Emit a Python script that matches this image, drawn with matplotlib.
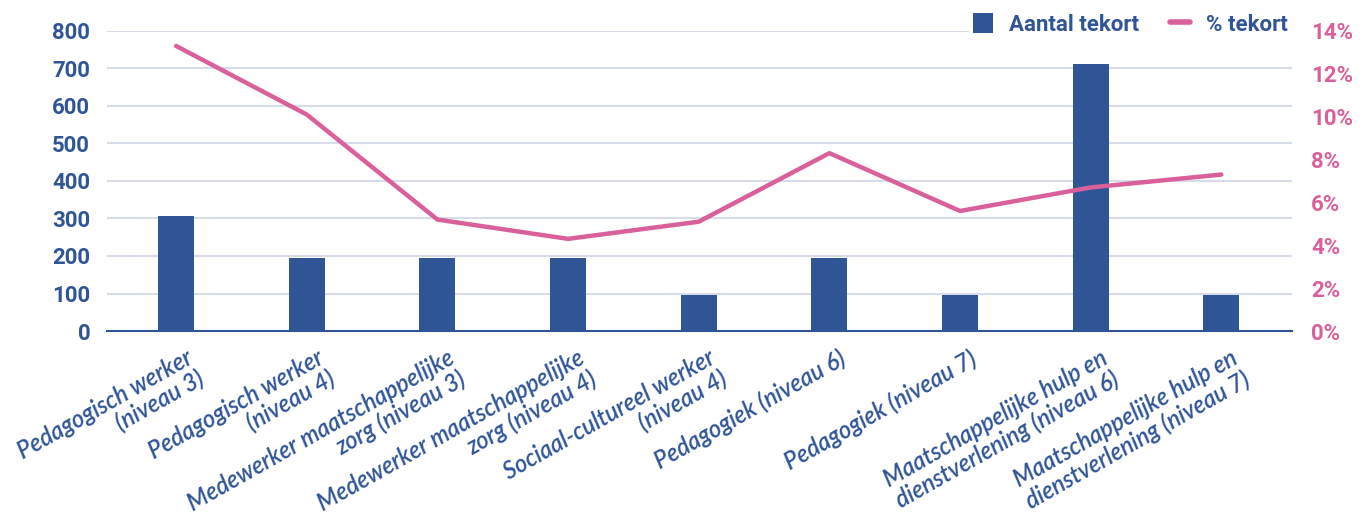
import matplotlib
matplotlib.use('Agg')
import matplotlib.pyplot as plt
from matplotlib.patches import Patch
from matplotlib.lines import Line2D
from matplotlib.ticker import FuncFormatter
from matplotlib.transforms import ScaledTranslation

blue = '#2f5597'
pink = '#d9609b'
grid = '#d6dce8'

categories = [
    'Pedagogisch werker\n(niveau 3)',
    'Pedagogisch werker\n(niveau 4)',
    'Medewerker maatschappelijke\nzorg (niveau 3)',
    'Medewerker maatschappelijke\nzorg (niveau 4)',
    'Sociaal-cultureel werker\n(niveau 4)',
    'Pedagogiek (niveau 6)',
    'Pedagogiek (niveau 7)',
    'Maatschappelijke hulp en\ndienstverlening (niveau 6)',
    'Maatschappelijke hulp en\ndienstverlening (niveau 7)',
]
aantal_tekort = [307, 195, 195, 195, 95, 195, 95, 712, 95]
pct_tekort = [13.3, 10.1, 5.2, 4.3, 5.1, 8.3, 5.6, 6.7, 7.3]

fig = plt.figure(figsize=(13.7, 5.12), dpi=100)
ax = fig.add_axes([0.078, 0.3535, 0.865, 0.586])
ax2 = ax.twinx()

x = range(len(categories))
ax.bar(x, aantal_tekort, width=0.276, color=blue, zorder=2)
ax2.plot(x, pct_tekort, color=pink, lw=3.2, solid_capstyle='round',
         solid_joinstyle='round', zorder=3)

ax.set_xlim(-0.53, 8.54)
ax.set_ylim(0, 800)
ax.set_yticks(range(0, 801, 100))
ax2.set_ylim(0, 14)
ax2.set_yticks(range(0, 15, 2))
ax2.yaxis.set_major_formatter(FuncFormatter(lambda v, _: f'{v:.0f}%'))

ax.grid(axis='y', color=grid, lw=1.5, zorder=0)
ax.set_axisbelow(True)

for a in (ax, ax2):
    for s in a.spines.values():
        s.set_visible(False)
ax.spines['bottom'].set_visible(True)
ax.spines['bottom'].set_color(blue)
ax.spines['bottom'].set_linewidth(1.5)
ax.spines['bottom'].set_zorder(4)

ax.tick_params(axis='y', length=0, pad=12, labelcolor=blue)
ax2.tick_params(axis='y', length=0, pad=14, labelcolor=pink)
for lbl in ax.get_yticklabels() + ax2.get_yticklabels():
    lbl.set_fontfamily('Roboto')
    lbl.set_fontweight('bold')
    lbl.set_fontsize(16)

# rotated category labels, right-aligned lines, nudged a little to the right
ax.set_xticks(list(x))
ax.set_xticklabels(categories, rotation=29.5, ha='right', va='top',
                   rotation_mode='anchor', multialignment='right',
                   linespacing=1.05, fontfamily='Lato', fontstyle='italic',
                   fontweight='semibold', fontsize=17, color=blue)
ax.tick_params(axis='x', length=0, pad=11)
shift = ScaledTranslation(0.09, 0, fig.dpi_scale_trans)
for lbl in ax.get_xticklabels():
    lbl.set_transform(lbl.get_transform() + shift)

handles = [Patch(facecolor=blue, label='Aantal tekort'),
           Line2D([0], [0], color=pink, lw=4, solid_capstyle='round',
                  label='% tekort')]
leg = ax2.legend(handles=handles, ncol=2, loc='center right',
                 bbox_to_anchor=(1.0, 1.022), frameon=True,
                 facecolor='white', edgecolor='none', framealpha=1,
                 borderpad=0.2, borderaxespad=0, handlelength=0.9,
                 handleheight=1.0, handletextpad=0.7, columnspacing=1.4,
                 prop={'family': 'Roboto', 'weight': 'bold', 'size': 16})
for t in leg.get_texts():
    t.set_color(blue)

fig.savefig('out.png', dpi=100)
